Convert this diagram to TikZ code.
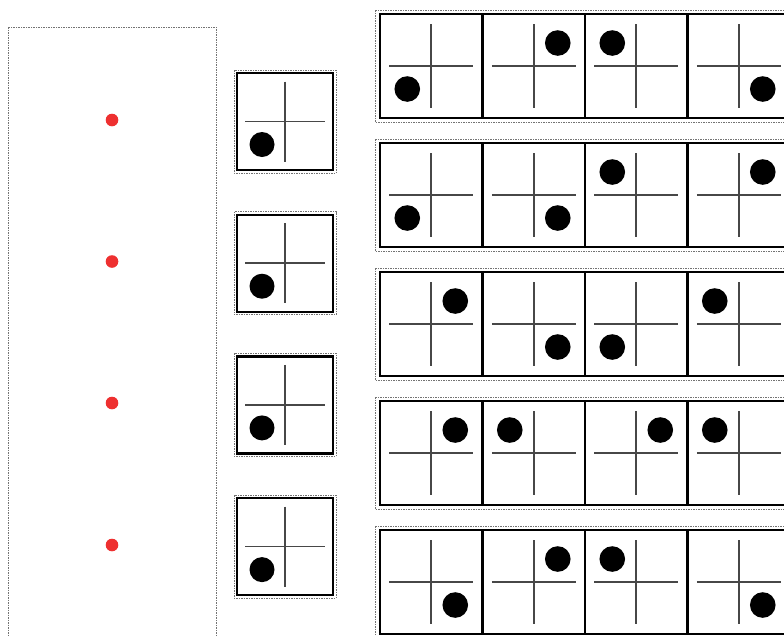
\documentclass[tikz,border=0pt]{standalone}
\begin{document}
\begin{tikzpicture}[x=1pt,y=-1pt,
  outerdash/.style={draw=black!55,line width=0.9pt,dash pattern=on 1.5pt off 1pt},
  cellbox/.style={draw=black,line width=2.3pt,minimum width=102.5pt,minimum height=104pt,inner sep=0pt,outer sep=0pt},
  smallbox/.style={draw=black,line width=2.3pt,minimum width=96pt,minimum height=97pt,inner sep=0pt,outer sep=0pt},
  crossline/.style={draw=black!72,line width=1.7pt},
  blackdot/.style={fill=black},
  reddot/.style={fill={rgb,255:red,238;green,48;blue,48}}]
\useasboundingbox (0,0) rectangle (784,635);
\clip (0,0) rectangle (784,635);
% left panel
\draw[outerdash] (8,27) rectangle (216,645);
\foreach \y [count=\i] in {120,261.5,403,545}
  \fill[reddot] (112,\y) circle (6.3pt) coordinate (red\i);
% middle boxes
\foreach \i in {0,1,2,3}{
  \pgfmathsetmacro{\top}{70+141.7*\i}
  \draw[outerdash] (234,\top) rectangle (336,\top+103);
  \node[smallbox] (m\i) at (285,\top+51.5) {};
  \draw[crossline] ([xshift=-40pt]m\i.center) -- ([xshift=40pt]m\i.center);
  \draw[crossline] ([yshift=40pt]m\i.center) -- ([yshift=-40pt]m\i.center);
  \fill[blackdot] ([xshift=-23pt,yshift=-23pt]m\i.center) circle (12.5pt);
}
% rows of cells
\foreach \r/\cells in {0/{-1/1,1/-1,-1/-1,1/1},
                       1/{-1/1,1/1,-1/-1,1/-1},
                       2/{1/-1,1/1,-1/1,-1/-1},
                       3/{1/-1,-1/-1,1/-1,-1/-1},
                       4/{1/1,1/-1,-1/-1,1/1}}{
  \pgfmathsetmacro{\top}{14+129*\r}
  \draw[outerdash] (375,\top-4) rectangle (800,\top+108);
  \foreach \sx/\sy [count=\k from 0] in \cells {
    \node[cellbox] (c\r\k) at (431.25+102.5*\k,\top+52) {};
    \draw[crossline] ([xshift=-42pt]c\r\k.center) -- ([xshift=42pt]c\r\k.center);
    \draw[crossline] ([yshift=42pt]c\r\k.center) -- ([yshift=-42pt]c\r\k.center);
    \fill[blackdot] ([xshift=24*\sx pt,yshift=-23*\sy pt]c\r\k.center) circle (12.8pt);
  }
}
\end{tikzpicture}
\end{document}
